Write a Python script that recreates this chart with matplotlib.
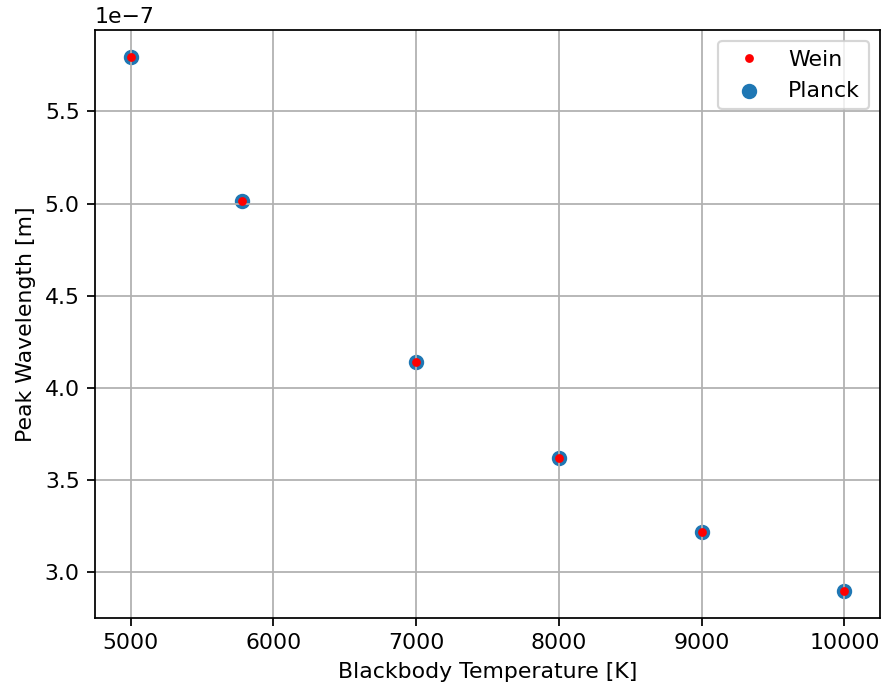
import numpy as np
import matplotlib
matplotlib.use("Agg")
import matplotlib.pyplot as plt

# temperatures of the blackbodies [K]
temps = [5000, 5778, 7000, 8000, 9000, 10000]
# peak wavelengths [m]
wein_peak = [5.796e-7, 5.016e-7, 4.140e-7, 3.622e-7, 3.220e-7, 2.898e-7]
planck_peak = [5.795e-7, 5.015e-7, 4.140e-7, 3.623e-7, 3.220e-7, 2.898e-7]

dpi = 158
fig = plt.figure(figsize=(883 / dpi, 690 / dpi), dpi=dpi)
ax = fig.add_axes([95 / 883, 1 - 618 / 690, (880 - 95) / 883, (618 - 30) / 690])

ax.plot(temps, wein_peak, "r.", label="Wein")
ax.scatter(temps, planck_peak, label="Planck")

ax.set_xlabel("Blackbody Temperature [K]")
ax.set_ylabel("Peak Wavelength [m]")
ax.grid(True)
ax.legend()

fig.savefig("out.png", dpi=dpi)
